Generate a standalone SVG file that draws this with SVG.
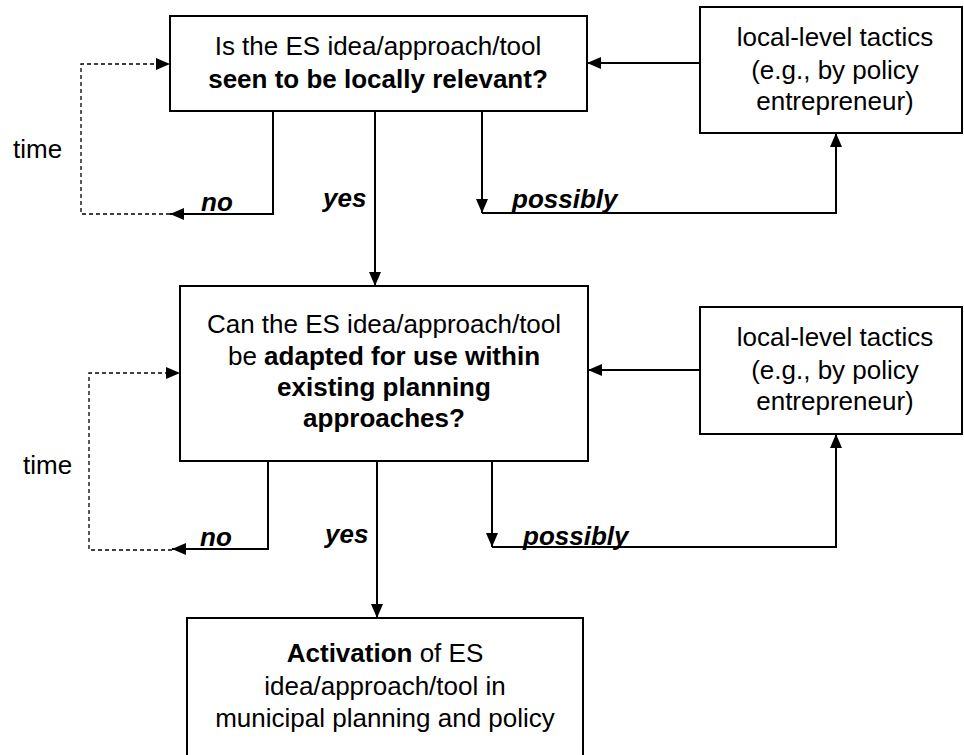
<svg xmlns="http://www.w3.org/2000/svg" width="964" height="755" viewBox="0 0 964 755">
  <style>
    .box { fill: #ffffff; stroke: #000000; stroke-width: 2; }
    .txt { font-family: "Liberation Sans", Arial, sans-serif; font-size: 26px; fill: #000000; text-anchor: middle; }
    .b { font-weight: bold; }
    .lbl { font-family: "Liberation Sans", Arial, sans-serif; font-size: 26px; font-weight: bold; font-style: italic; fill: #000000; }
    .side { font-family: "Liberation Sans", Arial, sans-serif; font-size: 26px; fill: #000000; }
    .edge { fill: none; stroke: #000000; stroke-width: 2; }
    .dash { fill: none; stroke: #000000; stroke-width: 1.3; stroke-dasharray: 4 3; }
  </style>
  <defs>
    <marker id="arrow" viewBox="0 0 14 12" refX="14" refY="6" markerWidth="14" markerHeight="12" markerUnits="userSpaceOnUse" orient="auto">
      <path d="M0,0 L14,6 L0,12 z" fill="#000000"/>
    </marker>
  </defs>

  <rect width="964" height="755" fill="#ffffff"/>

  <!-- connectors -->
  <g id="connectors">
    <!-- first question -->
    <line class="edge" x1="700" y1="63" x2="587" y2="63" marker-end="url(#arrow)"/>
    <path class="edge" d="M273,111 V214 H170" marker-end="url(#arrow)"/>
    <path class="dash" d="M170,214 H81 V64 H170" marker-end="url(#arrow)"/>
    <line class="edge" x1="375" y1="111" x2="375" y2="286" marker-end="url(#arrow)"/>
    <line class="edge" x1="482" y1="111" x2="482" y2="213" marker-end="url(#arrow)"/>
    <path class="edge" d="M482,213 H836 V133" marker-end="url(#arrow)"/>

    <!-- second question -->
    <line class="edge" x1="700" y1="370" x2="588" y2="370" marker-end="url(#arrow)"/>
    <path class="edge" d="M268,461 V549 H172" marker-end="url(#arrow)"/>
    <path class="dash" d="M172,550 H89 V373 H180" marker-end="url(#arrow)"/>
    <line class="edge" x1="377" y1="461" x2="377" y2="618" marker-end="url(#arrow)"/>
    <line class="edge" x1="492" y1="461" x2="492" y2="547" marker-end="url(#arrow)"/>
    <path class="edge" d="M492,547 H836 V434" marker-end="url(#arrow)"/>
  </g>

  <!-- branch labels -->
  <g id="labels">
    <text class="side" x="13" y="158">time</text>
    <text class="side" x="23" y="474">time</text>
    <text class="lbl" x="201" y="211">no</text>
    <text class="lbl" x="323" y="207">yes</text>
    <text class="lbl" x="512" y="208">possibly</text>
    <text class="lbl" x="200" y="546">no</text>
    <text class="lbl" x="325" y="543">yes</text>
    <text class="lbl" x="523" y="545">possibly</text>
  </g>

  <!-- question 1 -->
  <g id="q-relevant">
    <rect class="box" x="170" y="16" width="417" height="95"/>
    <text class="txt" x="378" y="55">Is the ES idea/approach/tool</text>
    <text class="txt b" x="378" y="88">seen to be locally relevant?</text>
  </g>

  <!-- tactics 1 -->
  <g id="tactics-1">
    <rect class="box" x="700" y="7" width="262" height="126"/>
    <text class="txt" x="835" y="46">local-level tactics</text>
    <text class="txt" x="835" y="79">(e.g., by policy</text>
    <text class="txt" x="835" y="110">entrepreneur)</text>
  </g>

  <!-- question 2 -->
  <g id="q-adapted">
    <rect class="box" x="180" y="286" width="408" height="175"/>
    <text class="txt" x="384" y="333">Can the ES idea/approach/tool</text>
    <text class="txt" x="384" y="365">be <tspan class="b">adapted for use within</tspan></text>
    <text class="txt b" x="384" y="396">existing planning</text>
    <text class="txt b" x="384" y="427">approaches?</text>
  </g>

  <!-- tactics 2 -->
  <g id="tactics-2">
    <rect class="box" x="700" y="307" width="262" height="127"/>
    <text class="txt" x="835" y="346">local-level tactics</text>
    <text class="txt" x="835" y="379">(e.g., by policy</text>
    <text class="txt" x="835" y="410">entrepreneur)</text>
  </g>

  <!-- outcome -->
  <g id="activation">
    <rect class="box" x="187" y="618" width="396" height="145"/>
    <text class="txt" x="385" y="662"><tspan class="b">Activation</tspan> of ES</text>
    <text class="txt" x="385" y="695">idea/approach/tool in</text>
    <text class="txt" x="385" y="727">municipal planning and policy</text>
  </g>
</svg>
